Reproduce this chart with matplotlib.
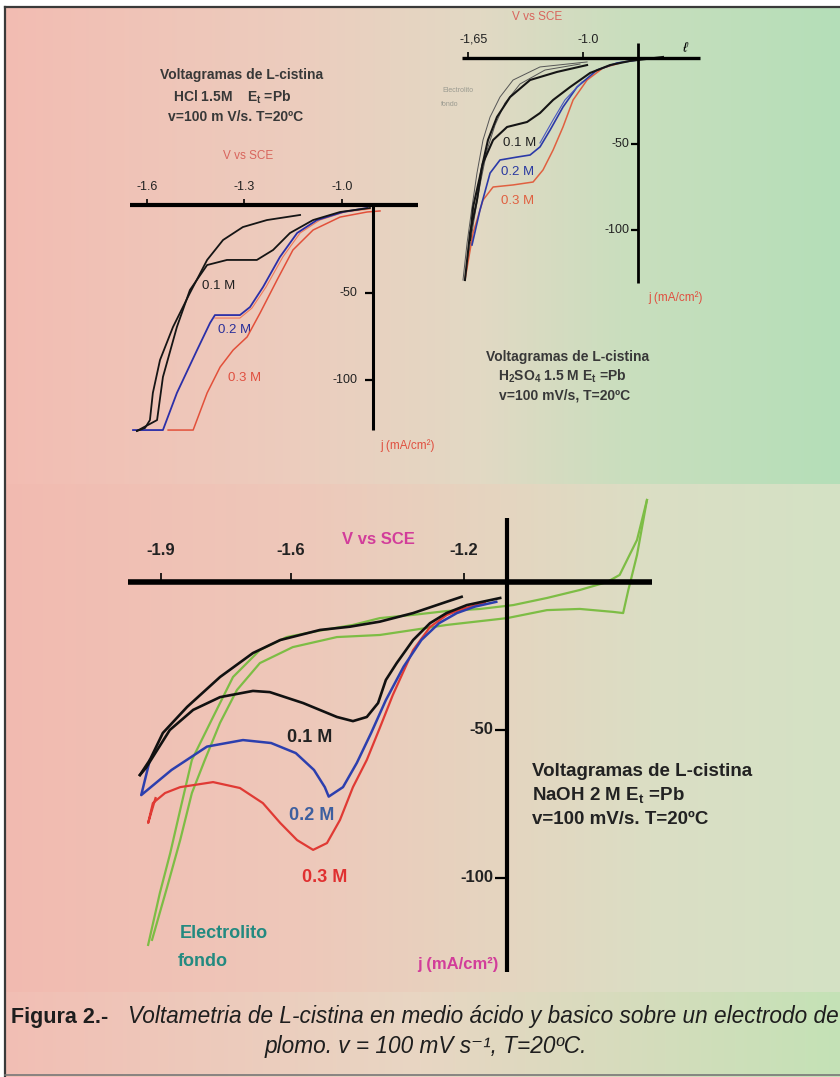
import numpy as np
import matplotlib
matplotlib.use('Agg')
import matplotlib.pyplot as plt

plt.rcParams['font.family'] = ['Liberation Sans', 'DejaVu Sans']

W, H = 840, 1077
NARROW = ['Liberation Sans Narrow', 'Liberation Sans', 'DejaVu Sans']

# ---------------- HCl 1.5 M (V vs SCE, j in mA/cm2) ----------------
hcl_v_01_fwd = [-1.129, -1.231, -1.305, -1.366, -1.415, -1.468, -1.520, -1.560, -1.582, -1.591, -1.606, -1.631]
hcl_j_01_fwd = [-5.7, -8.6, -12.6, -20.0, -31.4, -50.3, -69.7, -88.6, -107.4, -122.9, -127.4, -129.1]
hcl_v_01_rev = [-1.631, -1.569, -1.551, -1.508, -1.468, -1.415, -1.354, -1.262, -1.212, -1.160, -1.089, -1.006, -0.914]
hcl_j_01_rev = [-129.1, -122.9, -98.3, -69.7, -48.6, -34.3, -31.4, -31.4, -25.7, -16.0, -8.6, -4.0, -1.7]
hcl_v_02 = [-1.643, -1.551, -1.508, -1.446, -1.406, -1.391, -1.314, -1.283, -1.243, -1.191, -1.138, -1.077, -0.997, -0.923]
hcl_j_02 = [-128.6, -128.6, -107.4, -82.9, -67.4, -62.9, -62.9, -58.3, -46.9, -29.7, -16.0, -8.6, -4.0, -1.7]
hcl_v_03_rev = [-1.391, -1.314, -1.277, -1.234, -1.182, -1.129, -1.068, -0.991, -0.914]
hcl_j_03_rev = [-64.6, -64.6, -58.9, -46.9, -29.7, -16.0, -8.6, -4.0, -2.3]
hcl_v_03 = [-1.535, -1.458, -1.415, -1.375, -1.335, -1.292, -1.252, -1.200, -1.151, -1.089, -1.006, -0.923, -0.883]
hcl_j_03 = [-128.6, -128.6, -107.4, -92.6, -82.9, -75.4, -61.7, -42.9, -25.7, -14.3, -6.9, -4.0, -3.4]
hcl_xticks = [-1.6, -1.3, -1.0]
hcl_xlabels = ['-1.6', '-1.3', '-1.0']
hcl_yticks = [-50, -100]

# ---------------- H2SO4 1.5 M ----------------
h2so4_v_bg1 = [-0.977, -1.243, -1.395, -1.469, -1.525, -1.565, -1.599, -1.627, -1.655, -1.678]
h2so4_j_bg1 = [-2.3, -5.2, -12.8, -22.7, -34.3, -47.7, -66.9, -86.6, -107.6, -129.1]
h2so4_v_bg2 = [-1.017, -1.215, -1.356, -1.441, -1.497, -1.542, -1.582, -1.616, -1.650]
h2so4_j_bg2 = [-3.5, -7.0, -15.1, -26.2, -39.0, -53.5, -73.8, -94.2, -117.4]
h2so4_v_01_fwd = [-0.977, -1.147, -1.299, -1.412, -1.486, -1.537, -1.571, -1.599, -1.638, -1.667]
h2so4_j_01_fwd = [-4.1, -8.1, -12.8, -22.7, -34.3, -47.7, -63.4, -82.6, -101.7, -129.1]
h2so4_v_01_rev = [-1.638, -1.621, -1.565, -1.508, -1.429, -1.316, -1.243, -1.169, -1.073, -0.960, -0.847, -0.734, -0.548]
h2so4_j_01_rev = [-105.8, -86.6, -61.0, -47.7, -40.1, -37.2, -32.0, -24.4, -16.9, -8.7, -4.1, -1.7, 0.6]
h2so4_v_02 = [-1.627, -1.582, -1.525, -1.469, -1.373, -1.299, -1.243, -1.186, -1.113, -1.034, -0.921, -0.808, -0.695]
h2so4_j_02 = [-108.7, -88.4, -66.9, -59.3, -57.6, -56.4, -51.7, -41.9, -28.5, -16.9, -7.0, -2.9, -1.2]
h2so4_v_02b = [-1.243, -1.169, -1.102, -1.006]
h2so4_j_02b = [-49.4, -36.0, -24.4, -14.0]
h2so4_v_03 = [-1.667, -1.621, -1.565, -1.508, -1.395, -1.282, -1.226, -1.169, -1.113, -1.056, -0.977, -0.887, -0.791]
h2so4_j_03 = [-129.1, -101.7, -82.6, -75.0, -73.8, -72.1, -65.1, -53.5, -40.1, -24.4, -12.8, -5.8, -2.9]
h2so4_xticks = [-1.65, -1.0]
h2so4_xlabels = ['-1,65', '-1.0']
h2so4_yticks = [-50, -100]

# ---------------- NaOH 2 M ----------------
naoh_v_01_fwd = [-1.205, -1.240, -1.317, -1.394, -1.463, -1.532, -1.624, -1.687, -1.763, -1.839, -1.895, -1.925, -1.948]
naoh_j_01_fwd = [-5.0, -6.7, -10.5, -13.4, -15.1, -16.2, -19.6, -24.0, -32.1, -42.2, -51.0, -60.1, -65.2]
naoh_v_01_rev = [-1.948, -1.934, -1.879, -1.825, -1.763, -1.687, -1.648, -1.571, -1.493, -1.456, -1.424,
                 -1.398, -1.380, -1.355, -1.317, -1.278, -1.240, -1.193, -1.116]
naoh_j_01_rev = [-65.2, -62.8, -50.0, -43.2, -38.9, -36.8, -37.2, -40.9, -45.6, -47.0, -45.6,
                 -40.9, -33.1, -27.4, -19.6, -13.9, -10.5, -7.8, -5.4]
naoh_v_02 = [-1.925, -1.945, -1.875, -1.793, -1.710, -1.645, -1.588, -1.546, -1.521, -1.512, -1.479, -1.447,
             -1.414, -1.380, -1.339, -1.298, -1.257, -1.216, -1.174, -1.125]
naoh_j_02 = [-60.1, -72.0, -63.5, -55.6, -53.4, -54.4, -57.8, -63.5, -69.3, -72.5, -69.3, -61.1,
             -51.0, -39.9, -28.6, -19.6, -13.9, -10.5, -8.3, -6.7]
naoh_v_03 = [-1.912, -1.929, -1.918, -1.890, -1.855, -1.779, -1.717, -1.664, -1.624, -1.585, -1.548, -1.516,
             -1.486, -1.456, -1.424, -1.394, -1.364, -1.343, -1.317, -1.278, -1.239, -1.197, -1.151]
naoh_j_03 = [-73.0, -81.4, -74.7, -71.3, -69.3, -67.6, -69.6, -74.7, -81.4, -87.2, -90.5, -88.2,
             -80.4, -69.3, -60.1, -49.3, -38.2, -31.4, -23.0, -15.2, -11.1, -8.8, -7.1]
naoh_v_bg_a = [-1.929, -1.902, -1.878, -1.855, -1.828, -1.779, -1.733, -1.671, -1.609, -1.539, -1.456, -1.394,
               -1.317, -1.239, -1.162, -1.086, -1.008, -0.932, -0.869, -0.840, -0.800, -0.777]
naoh_j_bg_a = [-122.6, -105.1, -91.6, -77.0, -60.1, -45.6, -32.1, -23.0, -18.6, -16.6, -14.5, -12.2,
               -11.1, -9.8, -9.1, -7.8, -5.4, -2.7, 0.0, 2.4, 14.2, 27.7]
naoh_v_bg_b = [-1.920, -1.885, -1.855, -1.828, -1.798, -1.763, -1.724, -1.671, -1.595, -1.493, -1.394,
               -1.239, -1.100, -1.008, -0.932, -0.855, -0.832, -0.820, -0.800, -0.777]
naoh_j_bg_b = [-120.9, -103.0, -87.2, -71.3, -60.1, -47.6, -36.5, -27.4, -22.0, -18.6, -17.9,
               -14.5, -12.2, -9.5, -9.1, -10.1, -10.5, -2.7, 9.1, 27.7]
naoh_xticks = [-1.9, -1.6, -1.2]
naoh_xlabels = ['-1.9', '-1.6', '-1.2']
naoh_yticks = [-50, -100]


def band(img, y0, y1, xs, cols):
    # horizontal colour ramp over rows y0..y1
    x = np.arange(W)
    for c in range(3):
        img[y0:y1, :, c] = np.interp(x, xs, [k[c] for k in cols])[None, :] / 255.0


def panel(box, vcal, jcal):
    # box in pixels (x0, y0, x1, y1); vcal/jcal = (pixel, value, pixel, value)
    x0, y0, x1, y1 = box
    sv = (vcal[3] - vcal[1]) / (vcal[2] - vcal[0])
    sj = (jcal[3] - jcal[1]) / (jcal[2] - jcal[0])
    ax = fig.add_axes([x0 / W, 1 - y1 / H, (x1 - x0) / W, (y1 - y0) / H])
    ax.set_xlim(vcal[1] + (x0 - vcal[0]) * sv, vcal[1] + (x1 - vcal[0]) * sv)
    ax.set_ylim(jcal[1] + (y1 - jcal[0]) * sj, jcal[1] + (y0 - jcal[0]) * sj)
    ax.axis('off')
    ax.patch.set_alpha(0)
    return ax


def cross_axes(ax, vlim, v0, jlim, lwx, lwy, xt, xl, yt, fs, xtlen, ytlen, xoff, yoff, bold):
    ax.plot(vlim, [0, 0], color='black', lw=lwx, solid_capstyle='butt', zorder=5)
    ax.plot([v0, v0], jlim, color='black', lw=lwy, solid_capstyle='butt', zorder=5)
    fw = 'bold' if bold else 'normal'
    for v, s in zip(xt, xl):
        ax.plot(v, 0, marker=2, ms=xtlen, mew=1.2, color='black', zorder=5)
        ax.annotate(s, (v, 0), xytext=xoff, textcoords='offset points', ha='center', va='center',
                    fontsize=fs, fontweight=fw, family=NARROW, color='#222222')
    for j in yt:
        ax.plot(v0, j, marker=0, ms=ytlen, mew=1.6, color='black', zorder=5)
        ax.annotate('%d' % j, (v0, j), xytext=yoff, textcoords='offset points', ha='right', va='center',
                    fontsize=fs, fontweight=fw, family=NARROW, color='#222222')


fig = plt.figure(figsize=(W / 100, H / 100), dpi=100)

# background ramps
bg = np.ones((H, W, 3))
band(bg, 7, 484, [0, 300, 480, 620, 840],
     [(243, 188, 178), (236, 205, 190), (226, 217, 196), (202, 222, 190), (180, 222, 184)])
band(bg, 484, 992, [0, 300, 500, 650, 840],
     [(242, 186, 176), (238, 200, 186), (229, 213, 192), (219, 222, 196), (212, 226, 196)])
band(bg, 992, H, [0, 420, 840],
     [(242, 190, 180), (232, 214, 195), (196, 226, 182)])
bg[:7, :, :] = 1.0
bg[:, :4, :] = 1.0

axb = fig.add_axes([0, 0, 1, 1])
axb.imshow(bg, extent=(0, W, H, 0), aspect='auto')
axb.set_xlim(0, W)
axb.set_ylim(H, 0)
axb.axis('off')
axb.plot([4.5, 4.5], [7, H], color='#3a3a3a', lw=1.6)
axb.plot([4.5, W], [7, 7], color='#3a3a3a', lw=1.6)
axb.plot([4.5, W], [H - 2, H - 2], color='#777777', lw=1.2)

# ---- HCl panel ----
ax1 = panel((100, 140, 440, 460), (342, -1.0, 667, 0.0), (205, 0, 380, -100))
cross_axes(ax1, [-1.652, -0.766], -0.905, [0, -128.6], 3.0, 2.2, hcl_xticks, hcl_xlabels, hcl_yticks,
           9, 4, 6, (0, 13), (-11, 0), False)
ax1.plot(hcl_v_03_rev, hcl_j_03_rev, color='#f07a5a', lw=0.8)
ax1.plot(hcl_v_03, hcl_j_03, color='#e2503a', lw=1.1)
ax1.plot(hcl_v_02, hcl_j_02, color='#2b2fa8', lw=1.3)
ax1.plot(hcl_v_01_fwd, hcl_j_01_fwd, color='#151515', lw=1.3)
ax1.plot(hcl_v_01_rev, hcl_j_01_rev, color='#151515', lw=1.3)

axb.text(242, 75, 'Voltagramas de L-cistina', ha='center', va='center', fontsize=10, fontweight='bold',
         color='#383838')
axb.text(232, 97, 'HCl 1.5M    E$_\\mathregular{t}$ =Pb', ha='center', va='center', fontsize=10, fontweight='bold',
         color='#383838')
axb.text(236, 117, 'v=100 m V/s. T=20ºC', ha='center', va='center', fontsize=10, fontweight='bold', color='#383838')
axb.text(248, 156, 'V vs SCE', ha='center', va='center', fontsize=8.5, color='#d8645c')
axb.text(219, 286, '0.1 M', ha='center', va='center', fontsize=9.5, color='#202020')
axb.text(235, 330, '0.2 M', ha='center', va='center', fontsize=9.5, color='#2a2f9a')
axb.text(245, 378, '0.3 M', ha='center', va='center', fontsize=9.5, color='#e05040')
axb.text(408, 446, 'j (mA/cm²)', ha='center', va='center', fontsize=8.5, color='#e05040')

# ---- H2SO4 panel ----
ax2 = panel((430, 0, 720, 310), (583, -1.0, 760, 0.0), (58, 0, 230, -100))
cross_axes(ax2, [-1.684, -0.339], -0.689, [8.7, -130.8], 2.4, 2.0, h2so4_xticks, h2so4_xlabels, h2so4_yticks,
           9, 4, 5, (4, 13), (-6.5, 0), False)
ax2.plot(h2so4_v_bg1, h2so4_j_bg1, color='#555555', lw=0.7)
ax2.plot(h2so4_v_bg2, h2so4_j_bg2, color='#555555', lw=0.7)
ax2.plot(h2so4_v_03, h2so4_j_03, color='#e06040', lw=1.1)
ax2.plot(h2so4_v_02, h2so4_j_02, color='#2b3aa8', lw=1.2)
ax2.plot(h2so4_v_02b, h2so4_j_02b, color='#4a5ac0', lw=0.8)
ax2.plot(h2so4_v_01_fwd, h2so4_j_01_fwd, color='#151515', lw=1.5)
ax2.plot(h2so4_v_01_rev, h2so4_j_01_rev, color='#151515', lw=1.5)
ax2.text(-0.424, 6.0, 'ℓ', ha='center', va='center', fontsize=10, color='black', rotation=-15)

axb.text(537, 17, 'V vs SCE', ha='center', va='center', fontsize=8.5, color='#d8645c')
axb.text(458, 91, 'Electrolito', ha='center', va='center', fontsize=5, color='#9a9a90')
axb.text(450, 104, 'fondo', ha='center', va='center', fontsize=5, color='#9a9a90')
axb.text(520, 143, '0.1 M', ha='center', va='center', fontsize=9.5, color='#202020')
axb.text(518, 172, '0.2 M', ha='center', va='center', fontsize=9.5, color='#2a3aa0')
axb.text(518, 201, '0.3 M', ha='center', va='center', fontsize=9.5, color='#e06040')
axb.text(676, 298, 'j (mA/cm²)', ha='center', va='center', fontsize=8.5, color='#e05040')
axb.text(568, 357, 'Voltagramas de L-cistina', ha='center', va='center', fontsize=10, fontweight='bold',
         color='#383838')
axb.text(562, 376, 'H$_\\mathregular{2}$SO$_\\mathregular{4}$ 1.5 M E$_\\mathregular{t}$ =Pb', ha='center',
         va='center', fontsize=10, fontweight='bold', color='#383838')
axb.text(565, 396, 'v=100 mV/s, T=20ºC', ha='center', va='center', fontsize=10, fontweight='bold', color='#383838')

# ---- NaOH panel ----
ax3 = panel((110, 490, 680, 990), (160.7, -1.9, 593.7, -0.9), (582, 0, 878, -100))
cross_axes(ax3, [-1.975, -0.765], -1.1, [21.6, -131.8], 4.0, 3.0, naoh_xticks, naoh_xlabels, naoh_yticks,
           12, 6.5, 9, (0, 23), (-10, 0), True)
ax3.plot(naoh_v_bg_a, naoh_j_bg_a, color='#7dbd45', lw=1.6)
ax3.plot(naoh_v_bg_b, naoh_j_bg_b, color='#7dbd45', lw=1.6)
ax3.plot(naoh_v_03, naoh_j_03, color='#e03a34', lw=1.6)
ax3.plot(naoh_v_02, naoh_j_02, color='#2c3fae', lw=1.8)
ax3.plot(naoh_v_01_fwd, naoh_j_01_fwd, color='#111111', lw=1.9)
ax3.plot(naoh_v_01_rev, naoh_j_01_rev, color='#111111', lw=1.9)

axb.text(378, 540, 'V vs SCE', ha='center', va='center', fontsize=12, fontweight='bold', family=NARROW, color='#d23d9a')
axb.text(310, 738, '0.1 M', ha='center', va='center', fontsize=13, fontweight='bold', family=NARROW, color='#222222')
axb.text(312, 815, '0.2 M', ha='center', va='center', fontsize=13, fontweight='bold', family=NARROW, color='#3d5f9f')
axb.text(325, 878, '0.3 M', ha='center', va='center', fontsize=13, fontweight='bold', family=NARROW, color='#e03030')
axb.text(180, 934, 'Electrolito', ha='left', va='center', fontsize=13, fontweight='bold', family=NARROW, color='#238a80')
axb.text(178, 961, 'fondo', ha='left', va='center', fontsize=13, fontweight='bold', family=NARROW, color='#238a80')
axb.text(458, 964, 'j (mA/cm²)', ha='center', va='center', fontsize=12, fontweight='bold', family=NARROW, color='#d23d9a')
axb.text(532, 772, 'Voltagramas de L-cistina', ha='left', va='center', fontsize=13.5, fontweight='bold', family=NARROW,
         color='#222222')
axb.text(532, 796, 'NaOH 2 M E$_\\mathregular{t}$ =Pb', ha='left', va='center', fontsize=13.5, fontweight='bold',
         family=NARROW, color='#222222')
axb.text(532, 820, 'v=100 mV/s. T=20ºC', ha='left', va='center', fontsize=13.5, fontweight='bold', family=NARROW,
         color='#222222')

# ---- caption ----
axb.text(11, 1017, 'Figura 2.-', ha='left', va='center', fontsize=15.5, fontweight='bold', color='#1e1e1e')
axb.text(128, 1017, 'Voltametria de L-cistina en medio ácido y basico sobre un electrodo de', ha='left', va='center',
         fontsize=16.3, style='italic', color='#1e1e1e')
axb.text(265, 1046, 'plomo. v = 100 mV s⁻¹, T=20ºC.', ha='left', va='center', fontsize=16.3, style='italic',
         color='#1e1e1e')

fig.savefig('out.png', dpi=100)
